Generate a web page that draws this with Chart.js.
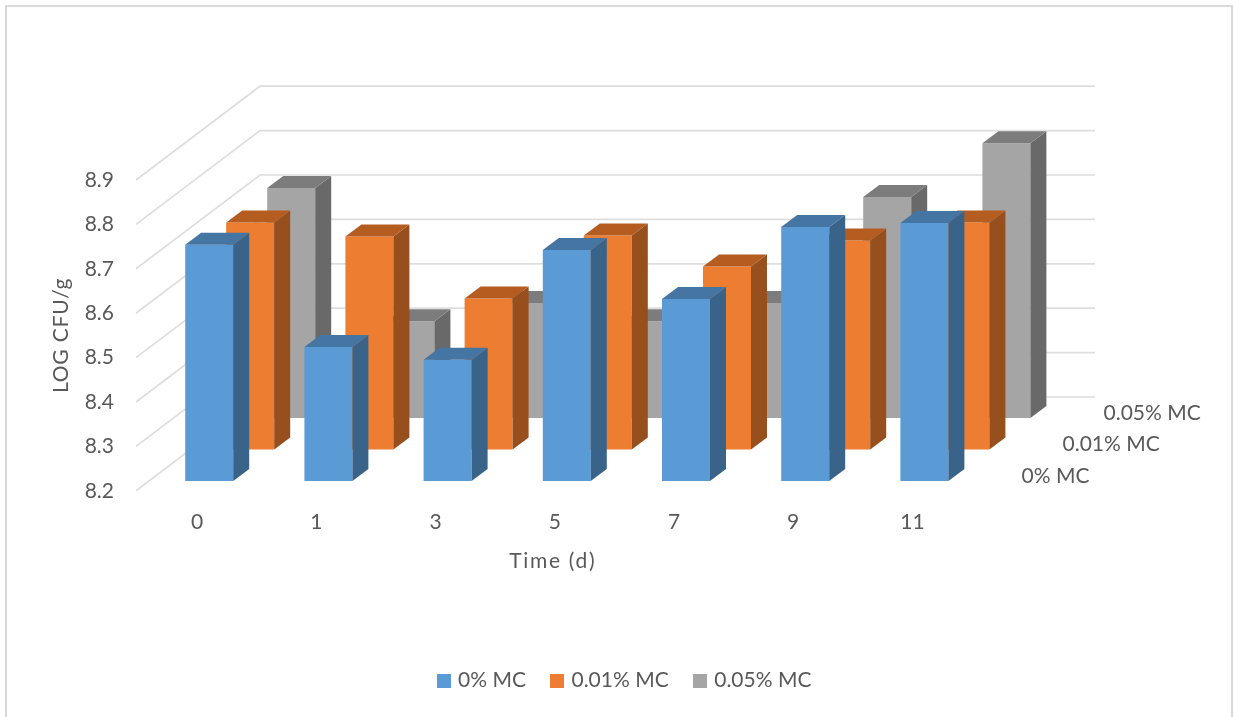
<!DOCTYPE html>
<html>
<head>
<meta charset="utf-8">
<style>html,body{margin:0;padding:0;background:#fff}canvas{display:block}</style>
<script src="https://cdn.jsdelivr.net/npm/chart.js@4"></script>
</head>
<body>
<canvas id="c" width="1233" height="717"></canvas>
<script>
const categories = ['0','1','3','5','7','9','11'];
const seriesNames = ['0% MC','0.01% MC','0.05% MC'];
const mc0  = [8.732,8.502,8.473,8.720,8.610,8.772,8.781];
const mc01 = [8.711,8.680,8.540,8.682,8.612,8.671,8.711];
const mc05 = [8.718,8.418,8.459,8.418,8.459,8.698,8.819];
const seriesValues = [mc0, mc01, mc05];
const frontColors = ['#5b9bd5','#ed7d31','#a5a5a5'];
const topColors   = ['#4475a3','#b55d20','#7c7c7c'];
const sideColors  = ['#396389','#964f1d','#696969'];
const yMin = 8.2, yMax = 8.9;

const FONT = 'Lato';
const FSIZE = 21;
const TXT = '#595959';
const GRID = '#dedede';

// 3D projection layout of the Excel-style chart
const band = {left:149.6, width:834.4};
const depthStep = {x:41, y:-31.5};
const barDepth = {x:16, y:-12};
const valueSpan = 310.8;
const frontBase = 481;
const wall = {left:260, right:1095, base:397};
const axisPlane = {x:136, base:490.8};

function spacedTitle(scale, spacing){
  if(scale._spaced) return;
  scale._spaced=true;
  const draw=scale.drawTitle;
  scale.drawTitle=function(){
    const c=this.ctx;
    c.letterSpacing=spacing;
    draw.call(this);
    c.letterSpacing='0px';
  };
}

const projection = {
  id:'projection',
  afterLayout(chart){
    const set=(s,l,r,t,b)=>{s.left=l;s.right=r;s.top=t;s.bottom=b;s.width=r-l;s.height=b-t;s.configure();};
    const S=chart.scales;
    [0,1,2].forEach(i=>{
      const l=band.left+i*depthStep.x, b=frontBase+i*depthStep.y;
      set(S['x'+i],l,l+band.width,b,574);
      set(S['y'+i],l,l+band.width,b-valueSpan,b);
    });
    // the title of the x axis sits slightly left of the band's centre
    S.x0.left-=14; S.x0.right-=14;
    set(S.yAxis,45,118,axisPlane.base-valueSpan,axisPlane.base);
    set(S.yWall,wall.left,wall.right,wall.base-valueSpan,wall.base);
    spacedTitle(S.x0,'1.7px');
    spacedTitle(S.yAxis,'0.8px');
  },
  beforeDraw(chart){
    const c=chart.ctx;
    c.save();
    c.fillStyle='#fff';c.fillRect(0,0,chart.width,chart.height);
    c.strokeStyle='#d9d9d9';c.lineWidth=2;
    c.beginPath();c.moveTo(6,717);c.lineTo(6,6);c.lineTo(1232,6);c.lineTo(1232,717);c.stroke();
    c.restore();
  },
  beforeDatasetsDraw(chart){
    const c=chart.ctx,S=chart.scales;
    c.save();
    c.strokeStyle=GRID;c.lineWidth=1.7;
    S.yAxis.ticks.forEach(t=>{
      const yf=S.yAxis.getPixelForValue(t.value), yb=S.yWall.getPixelForValue(t.value);
      c.beginPath();c.moveTo(axisPlane.x,yf);c.lineTo(wall.left,yb);c.lineTo(wall.right,yb);c.stroke();
    });
    c.fillStyle=TXT;c.font=FSIZE+'px '+FONT;c.textAlign='left';c.textBaseline='middle';
    seriesNames.forEach((n,i)=>{
      c.fillText(n,band.left+band.width+i*depthStep.x+37.5,S['y'+i].getPixelForValue(yMin)-5);
    });
    c.restore();
  },
  afterDatasetDraw(chart,args){
    const i=args.index,c=chart.ctx;
    const meta=args.meta;
    c.save();
    meta.data.forEach(el=>{
      const {x,y,width,base}=el.getProps(['x','y','width','base'],true);
      const l=x-width/2,r=x+width/2,dx=barDepth.x,dy=barDepth.y;
      c.fillStyle=sideColors[i];
      c.beginPath();c.moveTo(r,y);c.lineTo(r+dx,y+dy);c.lineTo(r+dx,base+dy);c.lineTo(r,base);c.closePath();c.fill();
      c.fillStyle=topColors[i];
      c.beginPath();c.moveTo(l,y);c.lineTo(l+dx,y+dy);c.lineTo(r+dx,y+dy);c.lineTo(r,y);c.closePath();c.fill();
    });
    c.restore();
  }
};

function swatch(color){
  const k=document.createElement('canvas');k.width=14;k.height=14;
  const g=k.getContext('2d');g.fillStyle=color;g.fillRect(0,0,14,14);
  return k;
}
const swatches=frontColors.map(swatch);

const hiddenAxis=(axis)=>({type:axis==='x'?'category':'linear',axis,display:false});
const valueAxis=()=>({type:'linear',axis:'y',display:false,min:yMin,max:yMax});

new Chart(document.getElementById('c'),{
  type:'bar',
  plugins:[projection],
  data:{
    labels:categories,
    datasets:seriesNames.map((name,i)=>({
      label:name,
      data:seriesValues[i],
      backgroundColor:frontColors[i],
      borderWidth:0,
      base:yMin,
      grouped:false,
      xAxisID:'x'+i,
      yAxisID:'y'+i,
      barPercentage:1,
      categoryPercentage:48/119.2,
      clip:false
    }))
  },
  options:{
    responsive:false,
    animation:false,
    events:[],
    layout:{padding:{bottom:16,left:18}},
    plugins:{
      tooltip:{enabled:false},
      title:{display:false},
      legend:{
        display:true,position:'bottom',
        labels:{
          usePointStyle:true,
          pointStyleWidth:8,
          boxHeight:14,
          padding:27,
          color:TXT,
          font:{family:FONT,size:FSIZE},
          generateLabels:(chart)=>seriesNames.map((n,i)=>({
            text:n,datasetIndex:i,pointStyle:swatches[i],fillStyle:frontColors[i],strokeStyle:frontColors[i],lineWidth:0,fontColor:TXT
          }))
        }
      }
    },
    scales:{
      x0:{type:'category',axis:'x',position:'bottom',
        grid:{display:false},border:{display:false},
        ticks:{color:TXT,font:{family:FONT,size:FSIZE},padding:21,labelOffset:-12,maxRotation:0,autoSkip:false},
        title:{display:true,text:'Time (d)',color:TXT,font:{family:FONT,size:FSIZE},padding:0}},
      x1:hiddenAxis('x'),
      x2:hiddenAxis('x'),
      y0:valueAxis(),y1:valueAxis(),y2:valueAxis(),yWall:valueAxis(),
      yAxis:{type:'linear',axis:'y',position:'left',min:yMin,max:yMax,
        grid:{display:false,drawTicks:false},border:{display:false},
        ticks:{stepSize:0.1,color:TXT,font:{family:FONT,size:FSIZE},padding:4,callback:v=>Number(v).toFixed(1)},
        title:{display:true,text:'LOG CFU/g',color:TXT,font:{family:FONT,size:FSIZE},padding:4}}
    }
  }
});
</script>
</body>
</html>
